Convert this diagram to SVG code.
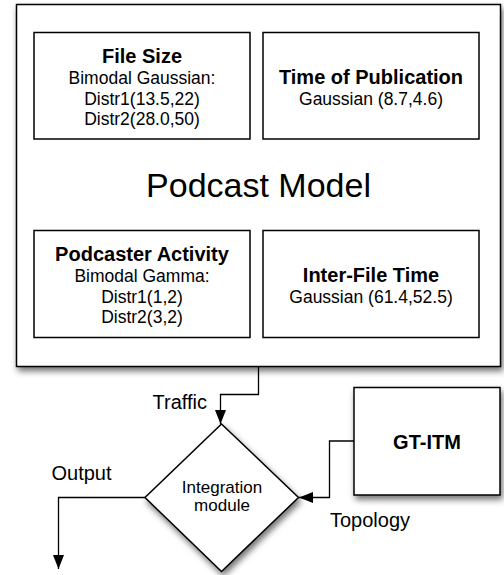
<svg xmlns="http://www.w3.org/2000/svg" width="504" height="575" viewBox="0 0 504 575">
<style>
.box{fill:#fff;stroke:#000;stroke-width:1.5}
.conn{fill:none;stroke:#000;stroke-width:1.3}
.b{font-family:"Liberation Sans",Arial,sans-serif;font-weight:bold;font-size:20px;text-anchor:middle;fill:#000}
.r{font-family:"Liberation Sans",Arial,sans-serif;font-size:17.5px;text-anchor:middle;fill:#000}
.lbl{font-family:"Liberation Sans",Arial,sans-serif;font-size:20px;fill:#000}
.title{font-family:"Liberation Sans",Arial,sans-serif;font-size:34px;text-anchor:middle;fill:#000}
</style>
<defs>
<filter id="sh" x="-10%" y="-10%" width="125%" height="125%">
<feDropShadow dx="2" dy="4" stdDeviation="3" flood-color="#000" flood-opacity="0.55"/>
</filter>
<marker id="arr" markerUnits="userSpaceOnUse" markerWidth="16" markerHeight="12" refX="14" refY="5.5" orient="auto">
<path d="M0,0 L14,5.5 L0,11 Z" fill="#000"/>
</marker>
</defs>
<g id="podcast-model">
<rect class="box" x="16.5" y="4.5" width="484" height="362" filter="url(#sh)"/>
<text class="title" x="258.5" y="197">Podcast Model</text>
</g>
<g id="file-size">
<rect class="box" x="34" y="32.5" width="216" height="106.5"/>
<text class="b" x="142" y="63">File Size</text>
<text class="r" x="142" y="84">Bimodal Gaussian:</text>
<text class="r" x="142" y="104.5">Distr1(13.5,22)</text>
<text class="r" x="142" y="125">Distr2(28.0,50)</text>
</g>
<g id="time-of-publication">
<rect class="box" x="263" y="32.5" width="216" height="106.5"/>
<text class="b" x="371" y="83.5">Time of Publication</text>
<text class="r" x="371" y="105">Gaussian (8.7,4.6)</text>
</g>
<g id="podcaster-activity">
<rect class="box" x="34" y="230.5" width="216" height="107"/>
<text class="b" x="142" y="261">Podcaster Activity</text>
<text class="r" x="142" y="282">Bimodal Gamma:</text>
<text class="r" x="142" y="302.5">Distr1(1,2)</text>
<text class="r" x="142" y="323">Distr2(3,2)</text>
</g>
<g id="inter-file-time">
<rect class="box" x="263" y="230.5" width="216" height="107"/>
<text class="b" x="371" y="281.5">Inter-File Time</text>
<text class="r" x="371" y="303">Gaussian (61.4,52.5)</text>
</g>
<g id="gt-itm">
<rect class="box" x="354" y="387.5" width="146" height="107.5" filter="url(#sh)"/>
<text class="b" x="427" y="448.5">GT-ITM</text>
</g>
<g id="integration-module">
<polygon class="box" points="221.5,424 298.5,497.5 221.5,571.5 145,497.5" filter="url(#sh)"/>
<text class="r" x="222" y="492.5" style="font-size:17px">Integration</text>
<text class="r" x="222" y="511" style="font-size:17px">module</text>
</g>
<g id="connectors">
<path class="conn" d="M258.5,367 V394.5 H220.5 V424" marker-end="url(#arr)"/>
<path class="conn" d="M354,441 H329.5 V497.5 H299" marker-end="url(#arr)"/>
<path class="conn" d="M145,497.5 H58.5 V569" marker-end="url(#arr)"/>
<text class="lbl" x="152.5" y="408.5">Traffic</text>
<text class="lbl" x="330" y="527">Topology</text>
<text class="lbl" x="51.5" y="479.5">Output</text>
</g>
</svg>
